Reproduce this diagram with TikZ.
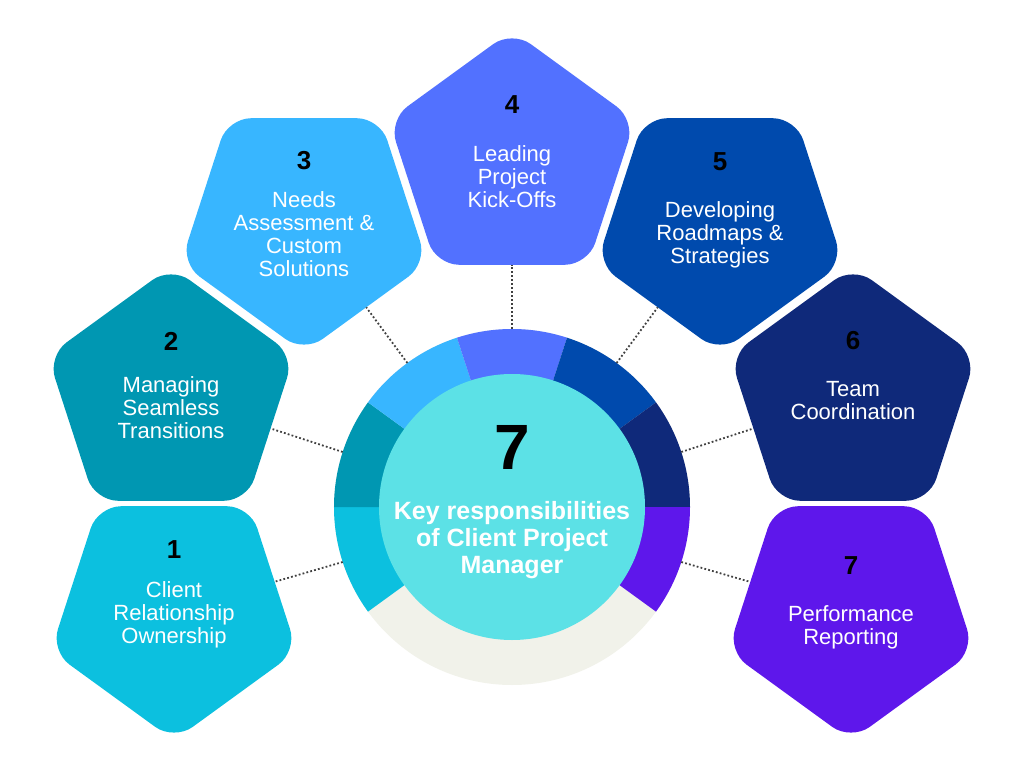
\documentclass[tikz,border=0pt]{standalone}
\usepackage{fontspec}
\setmainfont{Liberation Sans}
\usetikzlibrary{positioning,calc,shapes.geometric}
\definecolor{cyanA}{RGB}{12,192,223}
\definecolor{tealA}{RGB}{0,151,178}
\definecolor{skyA}{RGB}{56,182,255}
\definecolor{blueA}{RGB}{82,113,255}
\definecolor{royalA}{RGB}{0,74,173}
\definecolor{navyA}{RGB}{15,41,122}
\definecolor{violetA}{RGB}{94,23,235}
\definecolor{coreA}{RGB}{92,225,230}
\definecolor{bandA}{RGB}{241,242,234}
\newcommand{\ringR}{178pt}
\tikzset{
  penta/.style={regular polygon,regular polygon sides=5,minimum size=259pt,
    inner sep=0pt,outer sep=0pt,rounded corners=23pt},
  numtxt/.style={text=black,font=\bfseries\fontsize{26}{28}\selectfont},
  bodytxt/.style={text=white,align=center,font=\fontsize{22}{23}\selectfont},
  link/.style={draw=black!75,line width=1.8pt,dash pattern=on 1.8pt off 2.2pt},
}

\begin{document}
\begin{tikzpicture}[x=1pt,y=1pt]
    \useasboundingbox (-512,-261) rectangle (512,507);
    % ring of seven slices over the pale band
    \fill[bandA] (0,0) circle (\ringR);
    \foreach \a/\col in {180/cyanA,144/tealA,108/skyA,72/blueA,36/royalA,0/navyA,-36/violetA}
        \fill[\col] (0,0) -- (\a:\ringR) arc[start angle=\a,delta angle=36,radius=\ringR] -- cycle;
    % centre disc
    \node[circle,fill=coreA,minimum size=266pt,inner sep=0pt] (core) at (0,0) {};
    \node[text=black,font=\bfseries\fontsize{64}{64}\selectfont] (big) at (0,60) {7};
    \node[text=white,align=center,font=\bfseries\fontsize{25}{27}\selectfont] (title) at (0,-33)
        {Key responsibilities\\of Client Project\\Manager};
    % the seven pentagons
    \foreach \i/\a/\x/\y/\rot/\col/\ny/\ty/\txt in {
        1/198/-338/-104/180/cyanA/61/-4/Client\\Relationship\\Ownership,
        2/162/-341/111/0/tealA/55/-12/Managing\\Seamless\\Transitions,
        3/126/-208/284/180/skyA/62/-11/Needs\\Assessment \&\\Custom\\Solutions,
        4/90/0/347/0/blueA/55/-17/Leading\\Project\\Kick-Offs,
        5/54/208/284/180/royalA/61/-12/Developing\\Roadmaps \&\\Strategies,
        6/18/341/111/0/navyA/55/-5/Team\\Coordination,
        7/-18/339/-104/180/violetA/45/-16/Performance\\Reporting}
    {
        \node[penta,fill=\col,shape border rotate=\rot] (p\i) at (\x,\y) {};
        \node[numtxt] (n\i) at ($(p\i)+(0,\ny)$) {\i};
        \node[bodytxt] (t\i) at ($(p\i)+(0,\ty)$) {\txt};
        \coordinate (r\i) at (\a:\ringR);
        \draw[link] (r\i) -- (p\i);
    }
\end{tikzpicture}
\end{document}
